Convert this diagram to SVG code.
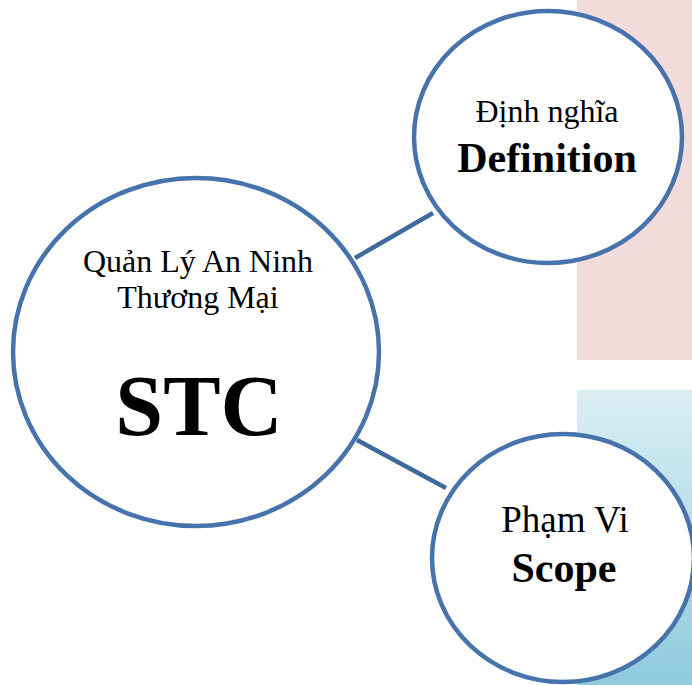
<svg xmlns="http://www.w3.org/2000/svg" width="692" height="685" viewBox="0 0 692 685">
  <defs>
    <linearGradient id="blueBand" x1="0" y1="0" x2="0" y2="1">
      <stop offset="0" stop-color="#dbeef4"/>
      <stop offset="1" stop-color="#8ecbdc"/>
    </linearGradient>
    <style>
      .node { fill: #ffffff; stroke: #4673ab; stroke-width: 4.5; }
      .link { stroke: #3f6a9c; stroke-width: 4.5; fill: none; }
      .t { font-family: "Liberation Serif", "Times New Roman", serif; fill: #000; text-anchor: middle; }
      .b { font-weight: bold; }
    </style>
  </defs>

  <rect width="692" height="685" fill="#ffffff"/>

  <!-- side bands -->
  <rect x="577" y="0" width="115" height="360" fill="#f2dcdb"/>
  <rect x="577" y="390" width="115" height="295" fill="url(#blueBand)"/>

  <!-- connectors -->
  <g id="connectors">
    <line class="link" x1="355" y1="258" x2="433" y2="213"/>
    <line class="link" x1="357" y1="440" x2="446" y2="488"/>
  </g>

  <!-- central node -->
  <g id="stc">
    <ellipse class="node" cx="196" cy="352" rx="183" ry="174"/>
    <text class="t" x="198" y="272" font-size="32">Quản Lý An Ninh</text>
    <text class="t" x="198" y="308" font-size="32">Thương Mại</text>
    <text class="t b" x="199" y="435" font-size="86">STC</text>
  </g>

  <!-- definition node -->
  <g id="definition">
    <ellipse class="node" cx="548" cy="137" rx="134" ry="126"/>
    <text class="t" x="547" y="122" font-size="32">Định nghĩa</text>
    <text class="t b" x="547" y="172" font-size="42">Definition</text>
  </g>

  <!-- scope node -->
  <g id="scope">
    <ellipse class="node" cx="563" cy="558" rx="131" ry="124"/>
    <text class="t" x="565" y="532" font-size="37">Phạm Vi</text>
    <text class="t b" x="564" y="582" font-size="42">Scope</text>
  </g>
</svg>
